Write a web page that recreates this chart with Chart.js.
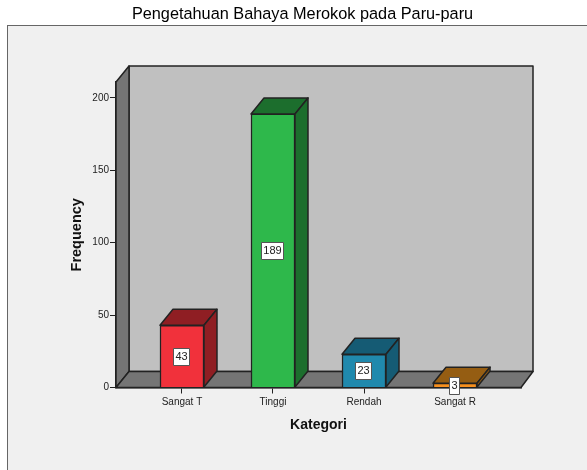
<!DOCTYPE html>
<html><head><meta charset="utf-8">
<style>html,body{margin:0;padding:0;background:#fff;overflow:hidden}canvas{display:block}</style>
<script src="https://cdn.jsdelivr.net/npm/chart.js@4"></script>
</head><body>
<div style="width:587px;height:470px"><canvas id="c" width="587" height="470"></canvas></div>
<script>
const categories = ["Sangat T","Tinggi","Rendah","Sangat R"];
const values = [43,189,23,3];
const yTicks = [0,50,100,150,200];
const frontColors = ["#f1313b","#2eb84b","#2089ad","#f7901e"];
const sideColors = ["#8f1e23","#1c6e2d","#155b74","#955d12"];
const chartTitle = "Pengetahuan Bahaya Merokok pada Paru-paru";
const xTitle = "Kategori";
const yTitle = "Frequency";

const DX = 13, DY = 16, INK = "#222222";
function poly(ctx, pts, fill, lw){
  ctx.beginPath();
  pts.forEach((p,i)=> i ? ctx.lineTo(p[0],p[1]) : ctx.moveTo(p[0],p[1]));
  ctx.closePath();
  ctx.fillStyle = fill; ctx.fill();
  ctx.lineWidth = lw; ctx.strokeStyle = INK; ctx.lineJoin = "round"; ctx.stroke();
}
const scene = {
  id:"scene",
  afterLayout(chart){
    const t = chart.titleBlock;
    t.left += 42; t.right += 42;
  },
  beforeDraw(chart){
    const c = chart.ctx;
    c.save();
    c.fillStyle = "#ffffff"; c.fillRect(0,0,chart.width,chart.height);
    c.fillStyle = "#f0f0f0"; c.fillRect(7.5,25.5,chart.width,chart.height);
    c.strokeStyle = "#666666"; c.lineWidth = 1; c.strokeRect(7.5,25.5,chart.width,chart.height);
    c.restore();
  },
  beforeDatasetsDraw(chart){
    const c = chart.ctx, a = chart.chartArea;
    const l=a.left, r=a.right, t=a.top, b=a.bottom;
    c.save();
    poly(c,[[l+DX,t-DY],[r+DX-1,t-DY],[r+DX-1,b-DY],[l+DX,b-DY]],"#c0c0c0",1.5);
    poly(c,[[l,t],[l+DX,t-DY],[l+DX,b-DY],[l,b]],"#757575",1.5);
    poly(c,[[l,b],[l+DX,b-DY],[r+DX-1,b-DY],[r,b]],"#757575",1.5);
    c.restore();
  },
  afterDatasetsDraw(chart){
    const c = chart.ctx;
    const bars = chart.getDatasetMeta(0).data;
    c.save();
    bars.forEach((el,i)=>{
      const L=el.x-el.width/2, R=el.x+el.width/2, T=el.y, B=el.base;
      poly(c,[[L,T],[L+DX,T-DY],[R+DX,T-DY],[R,T]],sideColors[i],1.5);
      poly(c,[[R,T],[R+DX,T-DY],[R+DX,B-DY],[R,B]],sideColors[i],1.5);
    });
    c.font = "11px 'Liberation Sans'";
    c.textAlign = "center"; c.textBaseline = "middle";
    bars.forEach((el,i)=>{
      const s = String(values[i]);
      const w = Math.round(c.measureText(s).width + 4), h = 17;
      const cy = (el.y+el.base)/2;
      const x = Math.round(el.x-w/2)-0.5, y = Math.round(cy-h/2)+0.5;
      c.fillStyle="#ffffff"; c.fillRect(x,y,w,h);
      c.strokeStyle="#555555"; c.lineWidth=1; c.strokeRect(x,y,w,h);
      c.fillStyle="#222222"; c.fillText(s,x+w/2,cy+0.5);
    });
    c.restore();
  }
};
new Chart(document.getElementById("c"),{
  type:"bar",
  data:{datasets:[{
    data:values.map((v,i)=>({x:i,y:v})),
    backgroundColor:frontColors,
    borderColor:INK,
    borderWidth:1.5,
    barThickness:44
  }]},
  plugins:[scene],
  options:{
    responsive:false,animation:false,
    layout:{padding:{left:0,right:66,top:0,bottom:0}},
    plugins:{
      legend:{display:false},tooltip:{enabled:false},
      title:{display:true,text:chartTitle,color:"#000000",
        font:{family:"'Liberation Sans'",size:16.3,weight:"normal"},
        padding:{top:5,bottom:57.5}}
    },
    scales:{
      x:{type:"linear",offset:false,min:-0.725,max:3.725,
        afterBuildTicks(s){s.ticks=categories.map((_,i)=>({value:i}));},
        afterFit(s){s.height=82.5;},
        ticks:{callback:v=>categories[v],color:"#222222",maxRotation:0,autoSkip:false,padding:3,
          font:{family:"'Liberation Sans'",size:10}},
        grid:{offset:false,drawOnChartArea:false,drawTicks:true,tickLength:6,color:INK},
        border:{display:true,color:INK,width:1.5},
        title:{display:true,text:xTitle,color:"#111111",padding:{top:0,bottom:36},
          font:{family:"'Liberation Sans'",size:14,weight:"bold"}}
      },
      y:{min:0,max:211,
        afterBuildTicks(s){s.ticks=yTicks.map(v=>({value:v}));},
        afterFit(s){s.width=116;},
        ticks:{color:"#222222",padding:1,font:{family:"'Liberation Sans'",size:10}},
        grid:{drawOnChartArea:false,drawTicks:true,tickLength:6,color:INK},
        border:{display:true,color:INK,width:1.5},
        title:{display:true,text:yTitle,color:"#111111",padding:{top:68,bottom:0},
          font:{family:"'Liberation Sans'",size:14.5,weight:"bold"}}
      }
    }
  }
});
</script>
</body></html>
